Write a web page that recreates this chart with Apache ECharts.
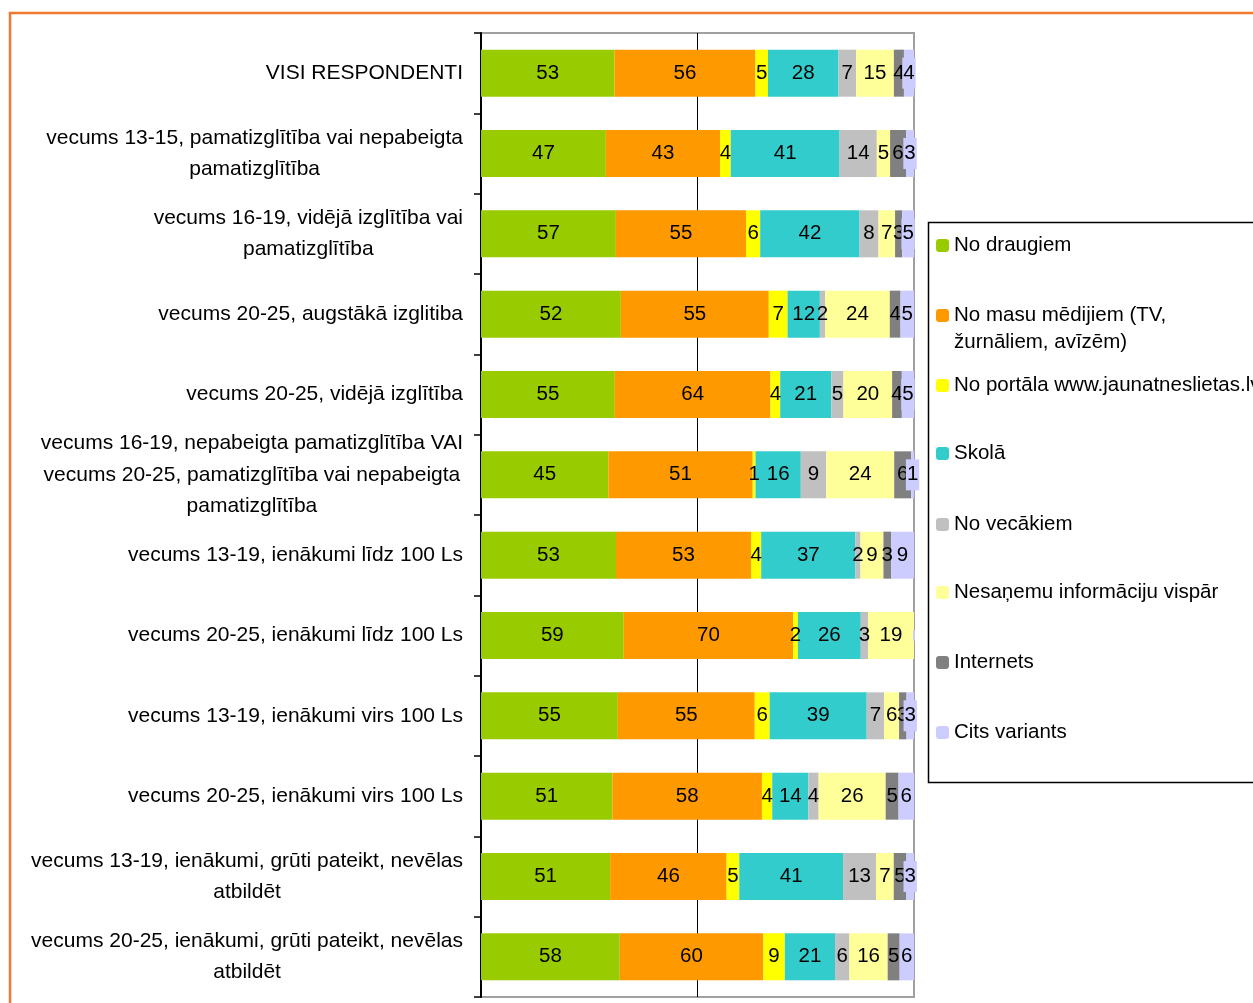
<!DOCTYPE html>
<html>
<head>
<meta charset="utf-8">
<script src="https://cdn.jsdelivr.net/npm/echarts@6/dist/echarts.min.js"></script>
<style>
html,body{margin:0;padding:0;background:#fff;}
#chart{width:1253px;height:1003px;}
</style>
</head>
<body>
<div id="chart"></div>
<script>
const categories = [
  'VISI RESPONDENTI',
  'vecums 13-15, pamatizglītība vai nepabeigta\npamatizglītība',
  'vecums 16-19, vidējā izglītība vai\npamatizglītība',
  'vecums 20-25, augstākā izglitiba',
  'vecums 20-25, vidējā izglītība',
  'vecums 16-19, nepabeigta pamatizglītība VAI\nvecums 20-25, pamatizglītība vai nepabeigta\npamatizglītība',
  'vecums 13-19, ienākumi līdz 100 Ls',
  'vecums 20-25, ienākumi līdz 100 Ls',
  'vecums 13-19, ienākumi virs 100 Ls',
  'vecums 20-25, ienākumi virs 100 Ls',
  'vecums 13-19, ienākumi, grūti pateikt, nevēlas\natbildēt',
  'vecums 20-25, ienākumi, grūti pateikt, nevēlas\natbildēt'
];
const seriesNames = [
  'No draugiem',
  'No masu mēdijiem (TV, žurnāliem, avīzēm)',
  'No portāla www.jaunatneslietas.lv',
  'Skolā',
  'No vecākiem',
  'Nesaņemu informāciju vispār',
  'Internets',
  'Cits variants'
];
const noDraugiem    = [53, 47, 57, 52, 55, 45, 53, 59, 55, 51, 51, 58];
const noMasuMedijiem= [56, 43, 55, 55, 64, 51, 53, 70, 55, 58, 46, 60];
const noPortala     = [5, 4, 6, 7, 4, 1, 4, 2, 6, 4, 5, 9];
const skola         = [28, 41, 42, 12, 21, 16, 37, 26, 39, 14, 41, 21];
const noVecakiem    = [7, 14, 8, 2, 5, 9, 2, 3, 7, 4, 13, 6];
const nesanemu      = [15, 5, 7, 24, 20, 24, 9, 19, 6, 26, 7, 16];
const internets     = [4, 6, 3, 4, 4, 6, 3, 0, 3, 5, 5, 5];
const citsVariants  = [4, 3, 5, 5, 5, 1, 9, 0, 3, 6, 3, 6];

const allValues = [noDraugiem, noMasuMedijiem, noPortala, skola, noVecakiem, nesanemu, internets, citsVariants];
const colors = ['#99CC00', '#FF9900', '#FFFF00', '#33CCCC', '#C0C0C0', '#FFFF99', '#808080', '#CCCCFF'];
const FONT = 'Liberation Sans, Arial, sans-serif';

const totals = categories.map((c, i) => allValues.reduce((s, arr) => s + arr[i], 0));

const series = allValues.map((arr, k) => {
  const label = {
    show: true,
    position: 'inside',
    color: '#000',
    fontSize: 20.5,
    fontFamily: FONT,
    formatter: p => (arr[p.dataIndex] ? String(arr[p.dataIndex]) : '')
  };
  if (k === 7) {
    label.backgroundColor = colors[k];
    label.padding = [5, 1, 5, 1];
  }
  return {
    name: seriesNames[k],
    type: 'bar',
    stack: 'total',
    barWidth: 47,
    itemStyle: { color: colors[k] },
    label: label,
    emphasis: { disabled: true },
    data: arr.map((v, i) => v / totals[i] * 100)
  };
});

const legendCenters = [245, 315, 385, 453, 524, 592, 662, 732];
const legendLabels = [
  'No draugiem',
  'No masu mēdijiem (TV,',
  'No portāla www.jaunatneslietas.lv',
  'Skolā',
  'No vecākiem',
  'Nesaņemu informāciju vispār',
  'Internets',
  'Cits variants'
];
const legends = seriesNames.map((n, k) => ({
  data: [n],
  left: 936,
  top: legendCenters[k] - 10,
  padding: 0,
  orient: 'vertical',
  itemWidth: 13,
  itemHeight: 13,
  selectedMode: false,
  formatter: () => legendLabels[k],
  textStyle: { fontSize: 20.5, fontFamily: FONT, color: '#000', lineHeight: 20 }
}));

const chart = echarts.init(document.getElementById('chart'), null, { renderer: 'canvas' });
chart.setOption({
  animation: false,
  backgroundColor: '#fff',
  graphic: [
    { type: 'rect', z: -10, silent: true, shape: { x: 10, y: 13, width: 1300, height: 1100 },
      style: { fill: 'none', stroke: '#F07830', lineWidth: 2.5 } },
    { type: 'rect', z: -5, silent: true, shape: { x: 928.5, y: 222.5, width: 400, height: 560 },
      style: { fill: 'none', stroke: '#000', lineWidth: 1.5 } },
    { type: 'text', silent: true, left: 954, top: 332,
      style: { text: 'žurnāliem, avīzēm)', fontSize: 20.5, fontFamily: FONT, fill: '#000' } }
  ],
  legend: legends,
  grid: {
    left: 481, top: 33, right: 339, bottom: 6,
    show: true, borderColor: '#A0A0A0', borderWidth: 2, backgroundColor: 'transparent'
  },
  xAxis: {
    type: 'value', min: 0, max: 100, interval: 50,
    axisLabel: { show: false },
    axisLine: { show: false },
    axisTick: { show: false },
    splitLine: { show: true, showMinLine: false, showMaxLine: false, lineStyle: { color: '#000', width: 1 } }
  },
  yAxis: {
    type: 'category',
    inverse: true,
    data: categories,
    axisLine: { show: true, lineStyle: { color: '#000', width: 2 } },
    axisTick: { show: true, length: 7, lineStyle: { color: '#000', width: 1.5 } },
    axisLabel: {
      margin: 18,
      color: '#000',
      fontSize: 21,
      fontFamily: FONT,
      lineHeight: 31.5,
      formatter: v => v.split('\n').map(l => '{c|' + l + '}').join('\n'),
      rich: { c: { align: 'center', fontSize: 21, fontFamily: FONT, lineHeight: 31.5, color: '#000' } }
    }
  },
  series: series
});
</script>
</body>
</html>
